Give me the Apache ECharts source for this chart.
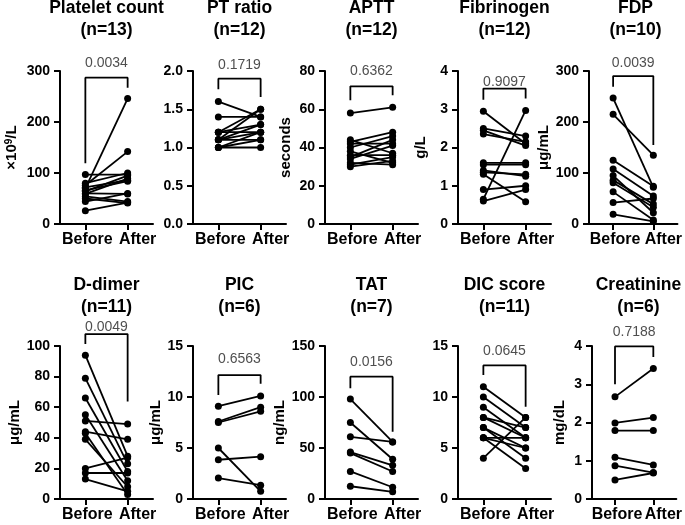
<!DOCTYPE html>
<html><head><meta charset="utf-8">
<script src="https://cdn.jsdelivr.net/npm/echarts@6/dist/echarts.min.js"></script>
<style>html,body{margin:0;padding:0;background:#fff}#c{width:685px;height:525px}</style>
</head><body><div id="c"></div>
<script>
// ---- data ----
const groups = ['Before', 'After'];
const plateletBefore = [97, 80, 76, 72, 70, 66, 64, 60, 59, 54, 50, 44, 26];
const plateletAfter  = [97, 100, 142, 86, 246, 84, 95, 59, 89, 44, 41, 60, 42];
const ptBefore = [1.6, 1.4, 1.2, 1.2, 1.2, 1.1, 1.1, 1.1, 1.1, 1.0, 1.0, 1.0];
const ptAfter  = [1.4, 1.4, 1.5, 1.3, 1.2, 1.5, 1.3, 1.2, 1.1, 1.0, 1.1, 1.2];
const apttBefore = [58, 44, 43, 42, 40, 38, 36, 35, 34, 32, 31, 30];
const apttAfter  = [61, 37, 48, 42, 46, 32, 36, 44, 41, 31, 35, 33];
const fibBefore = [2.95, 2.5, 2.45, 2.35, 1.6, 1.4, 1.35, 1.3, 0.9, 0.65, 0.6, 1.55];
const fibAfter  = [2.1, 2.3, 2.05, 2.15, 1.6, 1.25, 1.3, 0.58, 1.0, 2.97, 0.9, 1.55];
const fdpBefore = [247, 215, 125, 108, 95, 86, 81, 63, 42, 19];
const fdpAfter  = [72, 135, 74, 55, 22, 39, 33, 8, 50, 5];
const ddBefore = [94, 79, 66, 55, 51, 44, 43, 39, 20, 17, 13];
const ddAfter  = [28, 23, 18, 12, 49, 39, 3, 8, 27, 17, 5];
const picBefore = [9.1, 7.6, 7.5, 5.0, 3.85, 2.05];
const picAfter  = [10.1, 9.0, 8.6, 0.75, 4.15, 1.35];
const tatBefore = [98, 75, 61, 46, 45, 27, 12.5];
const tatAfter  = [56, 39, 56, 33, 27, 11.5, 7];
const dicBefore = [11, 10, 9, 8, 8, 7, 7, 6, 6, 6, 4];
const dicAfter  = [8, 7, 6, 7, 6, 5, 4, 6, 3, 5, 8];
const creBefore = [2.67, 1.99, 1.79, 1.09, 0.87, 0.5];
const creAfter  = [3.41, 2.13, 1.79, 0.89, 0.69, 0.68];

const titles = ['Platelet count', 'PT ratio', 'APTT', 'Fibrinogen', 'FDP', 'D-dimer', 'PIC', 'TAT', 'DIC score', 'Creatinine'];
const nValues = [13, 12, 12, 12, 10, 11, 6, 7, 11, 6];
const pValues = ['0.0034', '0.1719', '0.6362', '0.9097', '0.0039', '0.0049', '0.6563', '0.0156', '0.0645', '0.7188'];
const units = ['×10⁹/L', '', 'seconds', 'g/L', 'μg/mL', 'μg/mL', 'μg/mL', 'ng/mL', '', 'mg/dL'];
const yMax = [300, 2, 80, 4, 300, 100, 15, 150, 15, 4];
const yInterval = [100, 0.5, 20, 1, 100, 20, 5, 50, 5, 1];
const yDecimals = [0, 1, 0, 0, 0, 0, 0, 0, 0, 0];
const beforeSets = [plateletBefore, ptBefore, apttBefore, fibBefore, fdpBefore, ddBefore, picBefore, tatBefore, dicBefore, creBefore];
const afterSets  = [plateletAfter, ptAfter, apttAfter, fibAfter, fdpAfter, ddAfter, picAfter, tatAfter, dicAfter, creAfter];
// bracket annotations (data units): [left leg end, top, right leg end, p-label centre]
const brackets = [
  [119, 287, 267, 315], [1.76, 1.9, 1.66, 2.08], [64.7, 72, 67.3, 80], [3.25, 3.54, 3.28, 3.7],
  [269, 290, 155, 315], [101.3, 107.8, 63.7, 112.3], [10.2, 12.15, 11.3, 13.7], [108.5, 119.9, 66, 134],
  [12.15, 13.1, 9.05, 14.5], [3.0, 3.99, 3.71, 4.36]
];

// ---- layout ----
const FONT = 'Liberation Sans, Arial, Helvetica, sans-serif';
const gridLefts = [60, 193, 325, 458, 589, 60, 193, 325, 458, 592];
const gridTops = [71, 71, 71, 71, 71, 346, 346, 346, 346, 346];
const gridW = 93, gridH = 153;
const nameGaps = [40, 30, 32, 30, 26, 38, 21, 38, 30, 25];
const titleTops = [-3, 274];

const grid = [], xAxis = [], yAxis = [], series = [], title = [];
for (let i = 0; i < 10; i++) {
  grid.push({left: gridLefts[i], top: gridTops[i], width: gridW, height: gridH});
  xAxis.push({
    type: 'value', gridIndex: i, min: -0.6, max: 1.6,
    splitLine: {show: false},
    axisLine: {show: true, lineStyle: {color: '#000', width: 2}},
    axisTick: {show: true, customValues: [0, 1], length: 6, lineStyle: {color: '#000', width: 2}},
    axisLabel: {
      show: true, customValues: [0, 1], margin: 8,
      formatter: v => v === 0 ? '{b|' + groups[0] + '}' : '{a|' + groups[1] + '}',
      rich: {
        b: {fontSize: 16, fontWeight: 'bold', color: '#000', fontFamily: FONT, padding: [0, 0, 0, 4]},
        a: {fontSize: 16, fontWeight: 'bold', color: '#000', fontFamily: FONT, padding: [0, 0, 0, 20]}
      }
    }
  });
  const isRich = i === 0;
  yAxis.push({
    type: 'value', gridIndex: i, min: 0, max: yMax[i], interval: yInterval[i],
    splitLine: {show: false},
    axisLine: {show: true, onZero: false, lineStyle: {color: '#000', width: 2}},
    axisTick: {show: true, length: 6, lineStyle: {color: '#000', width: 2}},
    axisLabel: {fontSize: 14, fontWeight: 'bold', color: '#000', fontFamily: FONT, margin: 10,
      formatter: v => v.toFixed(yDecimals[i])},
    name: isRich ? '{n|×10}{s|9}{n|/L}' : units[i],
    nameLocation: 'middle', nameGap: nameGaps[i],
    nameTextStyle: isRich ? {
      rich: {
        n: {fontSize: 15, fontWeight: 'bold', color: '#000', fontFamily: FONT},
        s: {fontSize: 10, fontWeight: 'bold', color: '#000', fontFamily: FONT, verticalAlign: 'top', padding: [0, 0, 6, 0]}
      }
    } : {fontSize: 15, fontWeight: 'bold', color: '#000', fontFamily: FONT}
  });
  title.push({
    text: titles[i] + '\n(n=' + nValues[i] + ')',
    left: gridLefts[i] + gridW / 2, top: titleTops[i < 5 ? 0 : 1], textAlign: 'center', padding: 0,
    textStyle: {fontSize: 17.5, fontWeight: 'bold', color: '#000', fontFamily: FONT, lineHeight: 22}
  });
  const b = beforeSets[i], a = afterSets[i];
  for (let k = 0; k < b.length; k++) {
    series.push({
      type: 'line', xAxisIndex: i, yAxisIndex: i, data: [[0, b[k]], [1, a[k]]],
      symbol: 'circle', symbolSize: 7, showSymbol: true,
      itemStyle: {color: '#000'}, lineStyle: {color: '#000', width: 1.8},
      silent: true, animation: false, z: 3
    });
  }
  const br = brackets[i];
  series.push({
    type: 'line', xAxisIndex: i, yAxisIndex: i, clip: false,
    data: [[0, br[0]], [0, br[1]], [1, br[1]], [1, br[2]]],
    symbol: 'none', lineStyle: {color: '#000', width: 1.8}, silent: true, animation: false
  });
  series.push({
    type: 'scatter', xAxisIndex: i, yAxisIndex: i, clip: false,
    data: [[0.5, br[3]]], symbolSize: 1, itemStyle: {color: 'transparent'},
    label: {show: true, position: 'inside', formatter: pValues[i], fontSize: 14, color: '#222', fontFamily: FONT},
    silent: true, animation: false
  });
}

const chart = echarts.init(document.getElementById('c'), null, {renderer: 'canvas'});
chart.setOption({animation: false, backgroundColor: '#fff', title, grid, xAxis, yAxis, series});
</script>
</body></html>
